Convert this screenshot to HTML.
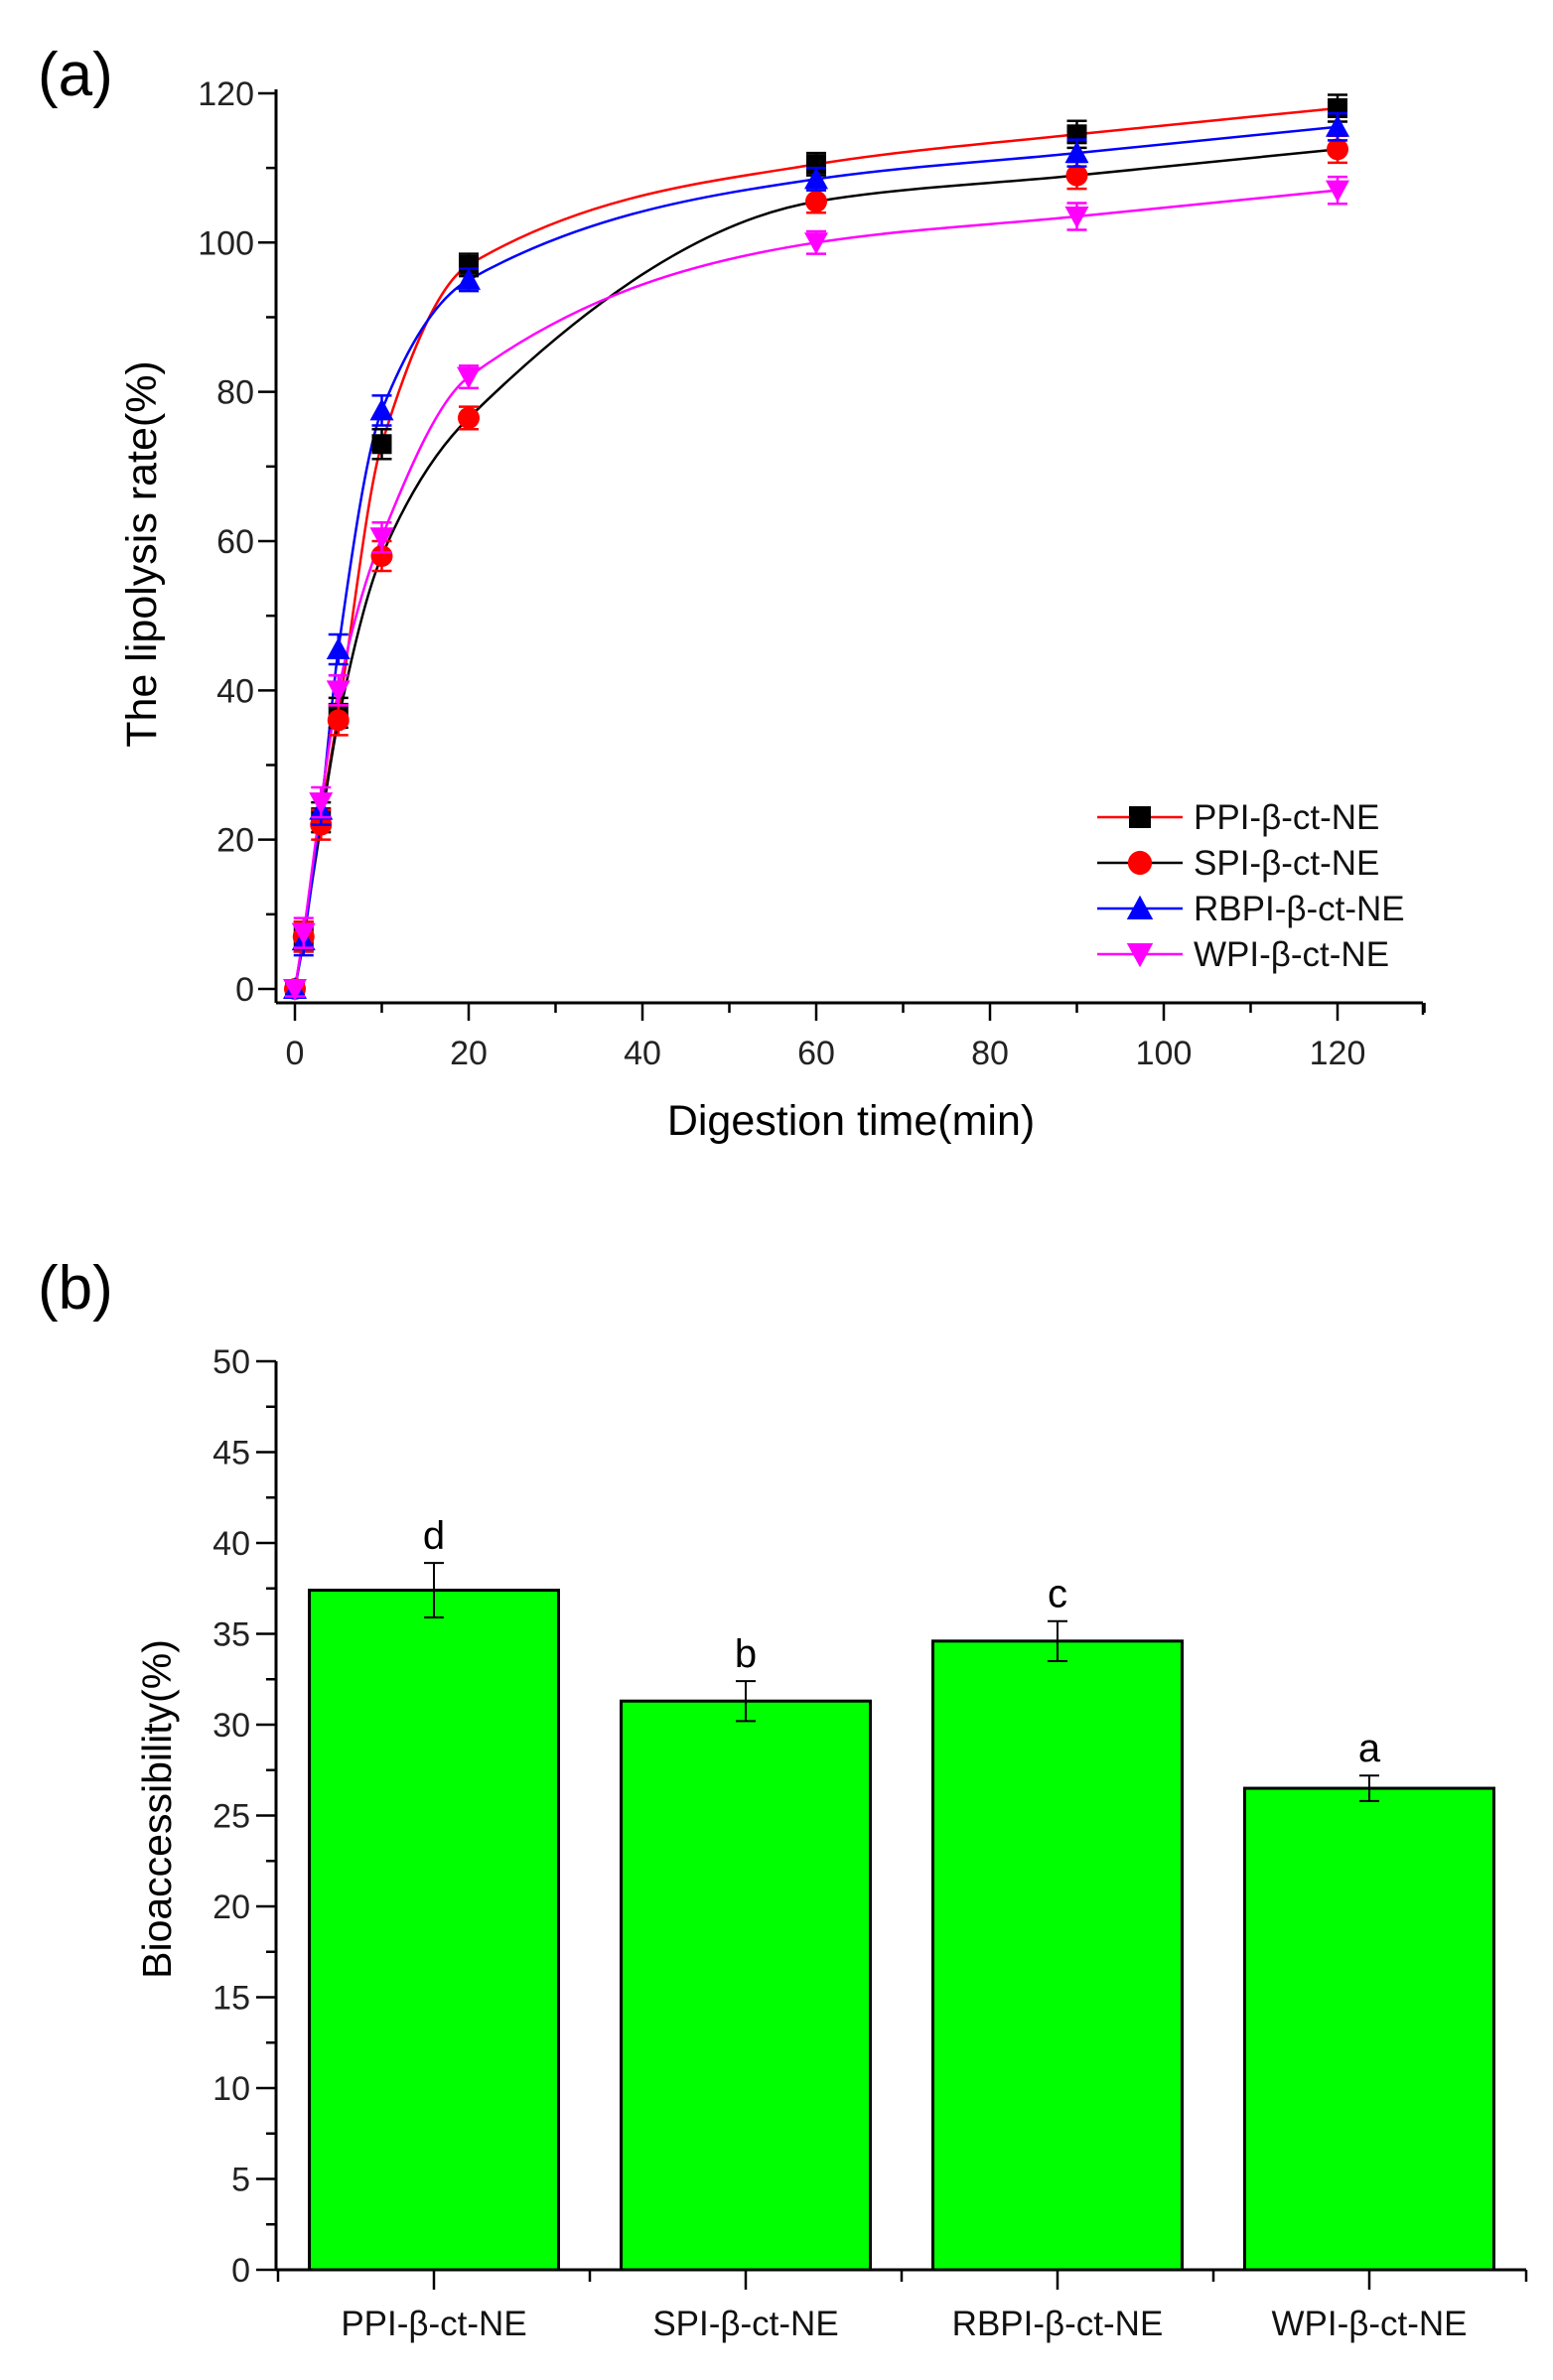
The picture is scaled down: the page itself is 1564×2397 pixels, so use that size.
<!DOCTYPE html>
<html><head><meta charset="utf-8"><style>
html,body{margin:0;padding:0;background:#fff}
svg{display:block;font-family:"Liberation Sans",sans-serif}
</style></head><body>
<svg id="fig" width="1564" height="2397" viewBox="0 0 1564 2397" xmlns="http://www.w3.org/2000/svg">
<rect width="1564" height="2397" fill="#fff"/>
<text x="38" y="96" font-size="62">(a)</text>
<text x="38" y="1318" font-size="62">(b)</text>
<g id="ga"></g>
<g id="gb"></g>
</svg>
<script>
const NS="http://www.w3.org/2000/svg";
// ---- Chart (a) data ----
const times=[0,1,3,5,10,20,60,90,120];
const seriesNames=["PPI-β-ct-NE","SPI-β-ct-NE","RBPI-β-ct-NE","WPI-β-ct-NE"];
const ppi=[0,7,23,37,73,97,110.5,114.5,118];
const spi=[0,7,22,36,58,76.5,105.5,109,112.5];
const rbpi=[0,6.5,24,45.5,77.5,95,108.5,112,115.5];
const wpi=[0,7.5,25,40,60.5,82,100,103.5,107];
const errA=[1,2,2,2,2,1.5,1.5,1.8,1.8];
const xTicksA=[0,20,40,60,80,100,120];
const yTicksA=[0,20,40,60,80,100,120];
// ---- Chart (b) data ----
const categories=["PPI-β-ct-NE","SPI-β-ct-NE","RBPI-β-ct-NE","WPI-β-ct-NE"];
const bioVals=[37.4,31.3,34.6,26.5];
const bioErr=[1.5,1.1,1.1,0.7];
const sigLetters=["d","b","c","a"];
const yTicksB=[0,5,10,15,20,25,30,35,40,45,50];

function el(tag,attrs,parent,txt){const e=document.createElementNS(NS,tag);for(const k in attrs)e.setAttribute(k,attrs[k]);if(txt!==undefined)e.textContent=txt;parent.appendChild(e);return e;}

// ===== Chart A =====
const ga=document.getElementById('ga');
const xA=t=>297+8.75*t;
const yA=v=>996-7.517*v;
const axA=1010, axL=278, axR=1433;
let e;
e=el('line',{x1:axL,y1:yA(120)-4,x2:axL,y2:axA,stroke:'#000','stroke-width':3},ga);

e=el('line',{x1:axL,y1:axA,x2:axR,y2:axA,stroke:'#000','stroke-width':3},ga);

for(let v=0;v<=120;v+=10){const maj=v%20===0;el('line',{x1:axL-(maj?18:10),y1:yA(v),x2:axL,y2:yA(v),stroke:'#000','stroke-width':2.5},ga);}
yTicksA.forEach(v=>{e=el('text',{x:axL-22,y:yA(v)+12,'font-size':34,'text-anchor':'end',fill:'#222'},ga,String(v));
});
for(let t=0;t<=130;t+=10){const maj=t%20===0;el('line',{x1:xA(t),y1:axA,x2:xA(t),y2:axA+(maj?18:10),stroke:'#000','stroke-width':2.5},ga);}
el('line',{x1:axR,y1:axA,x2:axR,y2:axA+12,stroke:'#000','stroke-width':2.5},ga);
xTicksA.forEach(t=>{e=el('text',{x:xA(t),y:1072,'font-size':34,'text-anchor':'middle',fill:'#222'},ga,String(t));
});
e=el('text',{x:857,y:1143,'font-size':43,'text-anchor':'middle'},ga,'Digestion time(min)');

e=el('text',{x:0,y:0,'font-size':43,'text-anchor':'middle',transform:'translate(157,558) rotate(-90)'},ga,'The lipolysis rate(%)');


function monotone(pts){const n=pts.length,dx=[],m=[],t=new Array(n);
for(let i=0;i<n-1;i++){dx[i]=pts[i+1][0]-pts[i][0];m[i]=(pts[i+1][1]-pts[i][1])/dx[i];}
t[0]=m[0];t[n-1]=m[n-2];
for(let i=1;i<n-1;i++){if(m[i-1]*m[i]<=0)t[i]=0;else{const w1=2*dx[i]+dx[i-1],w2=dx[i]+2*dx[i-1];t[i]=(w1+w2)/(w1/m[i-1]+w2/m[i]);}}
let d=`M${pts[0][0]},${pts[0][1]}`;
for(let i=0;i<n-1;i++){const h=dx[i]/3;d+=` C${pts[i][0]+h},${pts[i][1]+t[i]*h} ${pts[i+1][0]-h},${pts[i+1][1]-t[i+1]*h} ${pts[i+1][0]},${pts[i+1][1]}`;}
return d;}
const allSeries=[ppi,spi,rbpi,wpi];
const lineCol=['#ff0000','#000000','#0000ff','#ff00ff'];
const markCol=['#000000','#ff0000','#0000ff','#ff00ff'];
const markType=['square','circle','tri','dtri'];
const slug=['ppi','spi','rbpi','wpi'];
function marker(type,cx,cy,col,parent,s){let m;
if(type==='square')m=el('rect',{x:cx-s,y:cy-s,width:2*s,height:2*s,fill:col},parent);
else if(type==='circle')m=el('circle',{cx:cx,cy:cy,r:s*1.1,fill:col},parent);
else if(type==='tri')m=el('polygon',{points:`${cx},${cy-s*1.2} ${cx-s*1.2},${cy+s} ${cx+s*1.2},${cy+s}`,fill:col},parent);
else m=el('polygon',{points:`${cx},${cy+s*1.2} ${cx-s*1.2},${cy-s} ${cx+s*1.2},${cy-s}`,fill:col},parent);return m;}
allSeries.forEach((s,si)=>{const pts=times.map((t,i)=>[xA(t),yA(s[i])]);
e=el('path',{d:monotone(pts),fill:'none',stroke:lineCol[si],'stroke-width':2.5},ga);
});
allSeries.forEach((s,si)=>{times.forEach((t,i)=>{const cx=xA(t),cy=yA(s[i]),h=errA[i]*7.517;
el('path',{d:`M${cx},${cy-h}V${cy+h}M${cx-10},${cy-h}H${cx+10}M${cx-10},${cy+h}H${cx+10}`,stroke:markCol[si],'stroke-width':2.5,fill:'none'},ga);
e=marker(markType[si],cx,cy,markCol[si],ga,10);
});});
// legend
seriesNames.forEach((n,i)=>{const y=823+46*i;const g=el('g',{},ga);

el('line',{x1:1105,y1:y,x2:1191,y2:y,stroke:lineCol[i],'stroke-width':2.5},g);
marker(markType[i],1148,y,markCol[i],g,11);
el('text',{x:1202,y:y+12,'font-size':35,fill:'#111'},g,n);});

// ===== Chart B =====
const gb=document.getElementById('gb');
const yB=v=>2286-18.3*v;
const centers=[437,751,1065,1379];
const bw=251;
e=el('line',{x1:278,y1:yB(50),x2:278,y2:yB(0),stroke:'#000','stroke-width':3},gb);

e=el('line',{x1:278,y1:yB(0),x2:1537,y2:yB(0),stroke:'#000','stroke-width':3},gb);

for(let v=0;v<=50;v+=2.5){const maj=v%5===0;el('line',{x1:278-(maj?20:10),y1:yB(v),x2:278,y2:yB(v),stroke:'#000','stroke-width':2.5},gb);}
yTicksB.forEach(v=>{e=el('text',{x:252,y:yB(v)+12,'font-size':34,'text-anchor':'end',fill:'#222'},gb,String(v));
});
[280,594,908,1222,1537].forEach(x=>el('line',{x1:x,y1:yB(0),x2:x,y2:yB(0)+12,stroke:'#000','stroke-width':2.5},gb));
bioVals.forEach((v,i)=>{const cx=centers[i];
e=el('rect',{x:cx-bw/2,y:yB(v),width:bw,height:yB(0)-yB(v),fill:'#00ff00',stroke:'#000','stroke-width':3},gb);

const t=yB(v+bioErr[i]),b=yB(v-bioErr[i]);
el('path',{d:`M${cx},${t}V${b}M${cx-10},${t}H${cx+10}M${cx-10},${b}H${cx+10}`,stroke:'#000','stroke-width':2,fill:'none'},gb);
e=el('text',{x:cx,y:t-14,'font-size':40,'text-anchor':'middle'},gb,sigLetters[i]);

el('line',{x1:cx,y1:yB(0),x2:cx,y2:yB(0)+20,stroke:'#000','stroke-width':2.5},gb);
e=el('text',{x:cx,y:2352,'font-size':35,'text-anchor':'middle',fill:'#111'},gb,categories[i]);
});
e=el('text',{x:0,y:0,'font-size':41,'text-anchor':'middle',transform:'translate(172,1822) rotate(-90)'},gb,'Bioaccessibility(%)');

</script>
</body></html>
